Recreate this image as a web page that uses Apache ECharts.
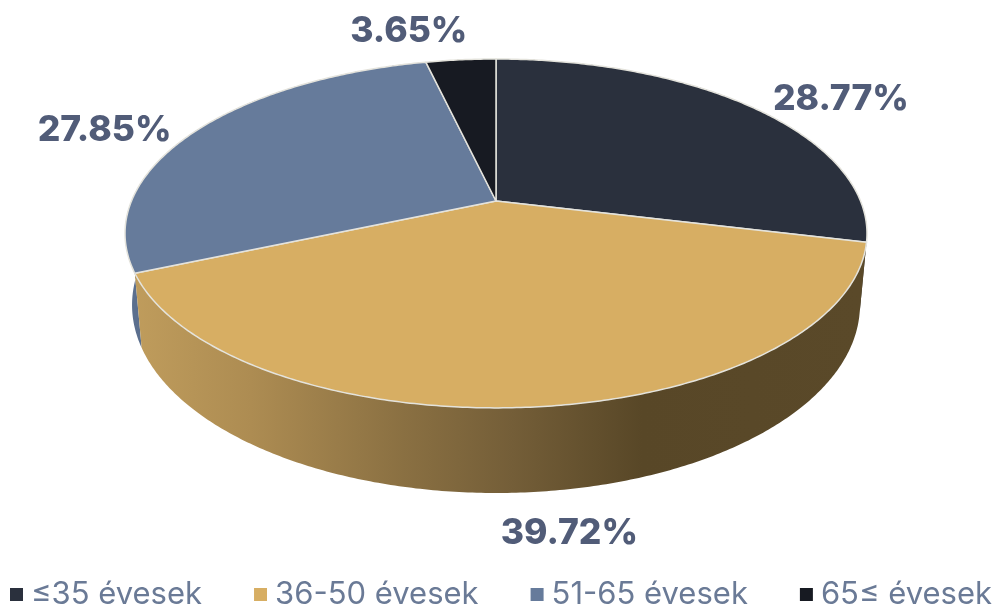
<!DOCTYPE html>
<html>
<head>
<meta charset="utf-8">
<style>html,body{margin:0;padding:0;background:#fff}#c{width:1002px;height:607px}</style>
<script src="https://cdn.jsdelivr.net/npm/echarts@6/dist/echarts.min.js"></script>
</head>
<body>
<div id="c"></div>
<script>
var categories = ['≤35 évesek', '36-50 évesek', '51-65 évesek', '65≤ évesek'];
var values = [28.77, 39.72, 27.85, 3.65];
var faceColors = ['#2a303d', '#d7ae63', '#667b9b', '#171a22'];
var wallColors = ['#3a3a34', null, '#5b6f8e', '#14161c'];
var labelNudge = [[88, -8], [35, 126], [-91, -1], [-52, -28]];

var chart = echarts.init(document.getElementById('c'), null, { renderer: 'canvas' });
var total = values.reduce(function (a, b) { return a + b; }, 0);
var TOP = { cx: 496, cy: 201, a: 364.5, b: 168.4, k: 0.186 };
var BASE = { cx: 496, cy: 270, a: 357.6, b: 181.5, k: 0.186 };

function project(d, t) {
  var den = 1 + d.k * Math.cos(t);
  return [d.cx + d.a * Math.sin(t) / den, d.cy - d.b * Math.cos(t) / den];
}
function arc(d, t0, t1) {
  var n = Math.max(2, Math.ceil((t1 - t0) / 0.01)), pts = [];
  for (var i = 0; i <= n; i++) pts.push(project(d, t0 + (t1 - t0) * i / n));
  return pts;
}
function goldWall() {
  return new echarts.graphic.LinearGradient(135, 0, 860, 0, [
    { offset: 0, color: '#bf9c5c' },
    { offset: 0.16, color: '#ad8c52' },
    { offset: 0.37, color: '#8a7042' },
    { offset: 0.52, color: '#745e38' },
    { offset: 0.7, color: '#584727' },
    { offset: 1, color: '#5a4929' }
  ], true);
}
function slice(index) {
  return function () {
    var before = 0;
    for (var j = 0; j < index; j++) before += values[j];
    var t0 = before / total * 2 * Math.PI;
    var t1 = (before + values[index]) / total * 2 * Math.PI;
    var top = arc(TOP, t0, t1);
    var wall = top.concat(arc(BASE, t0, t1).reverse());
    var mid = project(TOP, (t0 + t1) / 2);
    var nudge = labelNudge[index];
    return {
      type: 'group',
      children: [
        { type: 'polygon', z2: index === 1 ? 2 : 1, shape: { points: wall },
          style: { fill: wallColors[index] || goldWall() } },
        { type: 'polygon', z2: 10, shape: { points: [[TOP.cx, TOP.cy]].concat(top) },
          style: { fill: faceColors[index], stroke: '#e4e3dc', lineWidth: 1.5, lineJoin: 'round' } },
        { type: 'text', z2: 20, x: mid[0] + nudge[0], y: mid[1] + nudge[1],
          style: { text: values[index].toFixed(2) + '%', fill: '#515c78', align: 'center', verticalAlign: 'middle',
                   font: '800 35.5px Inter, "Liberation Sans", sans-serif' } }
      ]
    };
  };
}

chart.setOption({
  animation: false,
  backgroundColor: '#ffffff',
  legend: {
    left: 10, top: 579, width: 992, padding: 0, itemGap: 52, itemWidth: 13, itemHeight: 13, icon: 'rect',
    selectedMode: false,
    textStyle: { color: '#6a7a96', fontSize: 31, fontFamily: 'Inter, sans-serif', padding: [0, 0, 0, 3] },
    data: categories
  },
  series: categories.map(function (name, i) {
    return {
      type: 'custom', name: name, coordinateSystem: 'none',
      itemStyle: { color: faceColors[i] },
      renderItem: slice(i),
      data: [values[i]]
    };
  })
});
</script>
</body>
</html>
